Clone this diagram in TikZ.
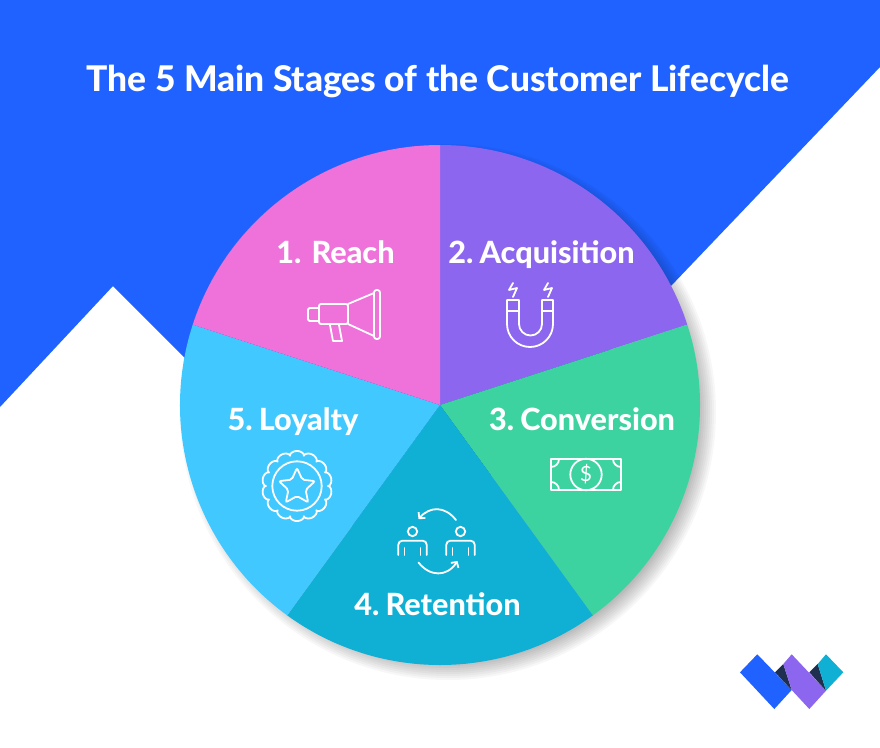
\documentclass[tikz,border=0pt]{standalone}
\usepackage{fontspec}
\setmainfont{Lato}
\newfontfamily\titlefont{Lato Heavy}
\newcommand{\stagefont}{\fontsize{30.6}{34}\selectfont\titlefont\setlength{\spaceskip}{.125em}}
\usetikzlibrary{arrows.meta,shapes.geometric}
\definecolor{bgblue}{HTML}{1F62FF}
\definecolor{reachpink}{HTML}{EF71DA}
\definecolor{acqpurple}{HTML}{8C66EE}
\definecolor{convgreen}{HTML}{3DD3A0}
\definecolor{rettteal}{HTML}{10B0D5}
\definecolor{loyalblue}{HTML}{41C8FF}
\definecolor{logodark}{HTML}{1F2F50}
\begin{document}
\begin{tikzpicture}[x=1pt,y=-1pt,
        stage/.style={text=white,inner sep=0pt,anchor=base,font=\stagefont},
        icon/.style={draw=white,line width=1.8pt,line join=round,line cap=round}]
\useasboundingbox (0,0) rectangle (880,747);
\fill[white] (0,0) rectangle (880,747);
\fill[bgblue] (0,0) -- (880,0) -- (880,67) -- (398.5,571.5) -- (113,286) -- (0,407) -- cycle;

\foreach \r in {250,252,...,268}
    \fill[black,opacity=0.03] (448,412) circle[radius=\r];

\coordinate (ctr) at (440,405);
\foreach \a/\b/\c in {-90/-18/acqpurple,-18/54/convgreen,54/126/rettteal,126/198/loyalblue,198/270/reachpink}
    \fill[\c] (ctr) -- ++(\a:260) arc[start angle=\a,end angle=\b,radius=260] -- cycle;

\node[text=white,inner sep=0pt,anchor=base,font=\fontsize{35.4}{40}\selectfont\titlefont] (title) at (438,91) {The 5 Main Stages of the Customer Lifecycle};
\node[stage] (reach) at (335.5,263) {1. \ Reach};
\node[stage] (acquisition) at (541.5,263) {2. Acquisition};
\node[stage] (conversion) at (582,430) {3. Conversion};
\node[stage] (retention) at (437.5,615) {4. Retention};
\node[stage] (loyalty) at (293,430) {5. Loyalty};

\draw[icon,rounded corners=1.5pt] (319,308) -- (308,308) -- (308,321) -- (319,321);
\draw[icon,rounded corners=2pt] (319,304) rectangle (348,324);
\draw[icon] (348,304) -- (374,293) (348,324) -- (374,336);
\draw[icon,rounded corners=2.5pt] (374,290) rectangle (380,339);
\draw[icon] (330,325) -- (333,341) -- (342,341) -- (339,325);

\draw[icon] (507,300) -- (519,300) -- (519,324) arc[start angle=180,end angle=0,radius=11.5] -- (542,300) -- (553,300) -- (553,324) arc[start angle=0,end angle=180,radius=23] -- cycle;
\draw[icon] (507,311) -- (519,311) (542,311) -- (553,311);
\draw[icon] (513,283) -- (509,290) -- (517,288) -- (513,297);
\draw[icon] (548,283) -- (544,290) -- (552,288) -- (548,297);

\draw[icon] (551,459) rectangle (621,490);
\draw[icon] (586,474.5) circle[radius=15.7];
\draw[icon] (551,467) arc[start angle=90,end angle=0,radius=8];
\draw[icon] (621,467) arc[start angle=90,end angle=180,radius=8];
\draw[icon] (551,482) arc[start angle=-90,end angle=0,radius=8];
\draw[icon] (621,482) arc[start angle=-90,end angle=-180,radius=8];
\node[text=white,inner sep=0pt,font=\fontsize{21}{24}\selectfont] (dollar) at (586,474.5) {\$};

\foreach \x in {412.5,460.5}{
    \draw[icon] (\x,531.5) circle[radius=4.7];
    \draw[icon,rounded corners=4pt] (\x-14.2,555) -- (\x-14.2,540.7) -- (\x+14.2,540.7) -- (\x+14.2,555);
    \draw[icon] (\x-8,548) -- (\x-8,555) (\x+8,548) -- (\x+8,555);
}
\draw[icon,->,>={Straight Barb[length=4pt,width=9pt]}] (456,520) .. controls (445,506) and (430,506) .. (418.5,519);
\draw[icon,->,>={Straight Barb[length=4pt,width=9pt]}] (418.5,562.5) .. controls (430,577) and (447,577) .. (457.5,561);

\draw[icon,samples=421,domain=0:360] plot ({297+(31+4*sqrt(abs(cos(7*(\x+90)))))*cos(\x)},{486+(31+4*sqrt(abs(cos(7*(\x+90)))))*sin(\x)}) -- cycle;
\draw[icon] (297,486) circle[radius=24.7];
\node[star,star points=5,star point ratio=2.1,draw=white,line width=1.8pt,minimum size=38pt,inner sep=0pt,rounded corners=2pt] (badgestar) at (297,487) {};

\fill[bgblue] (757.3,654.3) -- (740,672.3) -- (774.3,709) -- (791.7,690) -- cycle;
\fill[logodark] (775,672.3) -- (783.3,664) -- (791.7,690) -- cycle;
\fill[acqpurple] (791.7,654.3) -- (783.3,664) -- (791.7,690) -- (809.3,709) -- (826,690.7) -- cycle;
\fill[logodark] (809.3,672.3) -- (817.7,664) -- (826,690.7) -- cycle;
\fill[rettteal] (826,654.3) -- (817.7,664) -- (826,690.7) -- (843.3,672.3) -- cycle;
\end{tikzpicture}
\end{document}
